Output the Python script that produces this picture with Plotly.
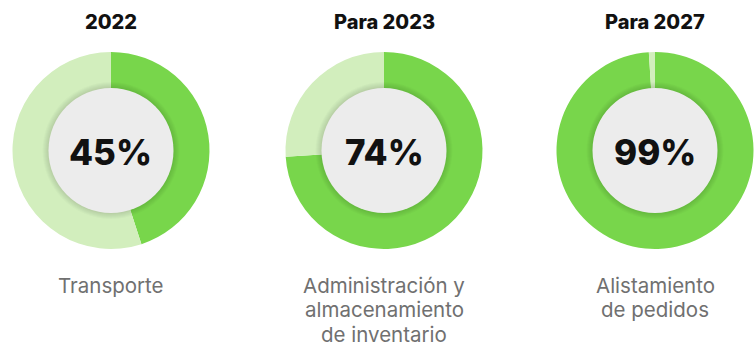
import plotly.graph_objects as go

# Data
titles = ["2022", "Para 2023", "Para 2027"]
percentages = [45, 74, 99]
labels = [
    ["Transporte"],
    ["Administración y", "almacenamiento", "de inventario"],
    ["Alistamiento", "de pedidos"],
]

W, H = 755, 346
DARK = "#78d64b"
LIGHT = "#d2eebd"
CENTER_FILL = "#ececec"

centers_x = [111, 384, 655]
center_y = 150.5  # px from top
radius = 98.5
hole_r = 62.5
first_line_y = 285   # px from top, centre of first label line
line_gap = 24.5

fig = go.Figure()

for i, (t, p, lab) in enumerate(zip(titles, percentages, labels)):
    cx = centers_x[i]
    fig.add_trace(go.Pie(
        values=[p, 100 - p],
        marker=dict(colors=[DARK, LIGHT], line=dict(width=0)),
        sort=False,
        direction="clockwise",
        rotation=0,
        hole=0.6,
        textinfo="none",
        hoverinfo="skip",
        showlegend=False,
        domain=dict(
            x=[(cx - radius) / W, (cx + radius) / W],
            y=[(H - center_y - radius) / H, (H - center_y + radius) / H],
        ),
    ))

    # soft shadow around the centre disc
    for k in range(6, 0, -1):
        r = hole_r + k
        fig.add_shape(type="circle", xref="paper", yref="paper",
                      x0=(cx - r) / W, x1=(cx + r) / W,
                      y0=(H - center_y - r) / H, y1=(H - center_y + r) / H,
                      fillcolor="rgba(0,0,0,0.018)", line=dict(width=0), layer="above")
    fig.add_shape(type="circle", xref="paper", yref="paper",
                  x0=(cx - hole_r) / W, x1=(cx + hole_r) / W,
                  y0=(H - center_y - hole_r) / H, y1=(H - center_y + hole_r) / H,
                  fillcolor=CENTER_FILL, line=dict(width=0), layer="above")

    fig.add_annotation(x=cx / W, y=(H - center_y - 1) / H, xref="paper", yref="paper",
                       text=f"{p}%", showarrow=False, xanchor="center", yanchor="middle",
                       font=dict(family="Inter", size=35, color="#111111", weight=800))
    fig.add_annotation(x=cx / W, y=(H - 22) / H, xref="paper", yref="paper",
                       text=t, showarrow=False, xanchor="center", yanchor="middle",
                       font=dict(family="Inter", size=20, color="#111111", weight=800))
    for j, line in enumerate(lab):
        fig.add_annotation(x=cx / W, y=(H - first_line_y - j * line_gap) / H,
                           xref="paper", yref="paper",
                           text=line, showarrow=False, xanchor="center", yanchor="middle",
                           borderpad=0,
                           font=dict(family="Inter", size=20.5, color="#707070"))

fig.update_layout(
    width=W, height=H,
    margin=dict(l=0, r=0, t=0, b=0),
    paper_bgcolor="white",
    plot_bgcolor="white",
)

fig.write_html("out.html", config={"displayModeBar": False})
